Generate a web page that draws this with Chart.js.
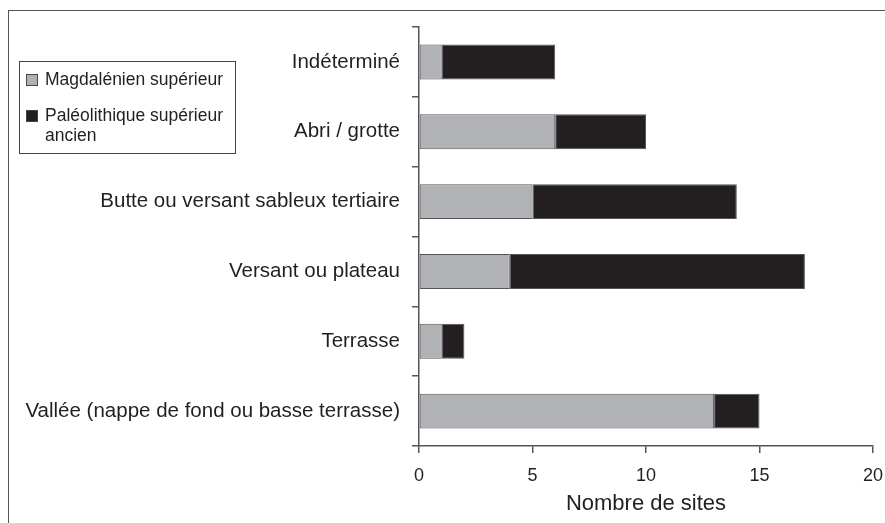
<!DOCTYPE html>
<html>
<head>
<meta charset="utf-8">
<script src="https://cdn.jsdelivr.net/npm/chart.js@4.4.1/dist/chart.umd.min.js"></script>
<style>
  body { margin: 0; background: #fff; font-family: "Liberation Sans", Arial, sans-serif; }
  #wrap { position: relative; width: 885px; height: 523px; }
  #frame { position: absolute; left: 8px; top: 10px; right: 0; bottom: -2px;
    border-top: 1.5px solid #555; border-left: 1.5px solid #555; }
  #legend { position: absolute; left: 19px; top: 61px; width: 215px; height: 91px;
    border: 1px solid #444; background: #fff; color: #231f20; font-size: 17.5px; }
  .item { position: absolute; left: 6px; line-height: 20px; }
  .box { position: absolute; left: 0; top: 5px; width: 10px; height: 10px; border: 1px solid #444; }
  .txt { position: absolute; left: 19px; top: 0; width: 200px; white-space: pre; }
</style>
</head>
<body>
<div id="wrap">
  <div id="frame"></div>
  <canvas id="myChart" width="885" height="523"></canvas>
  <div id="legend"></div>
</div>
<script>
// categories, top to bottom
var categories = [
  "Indéterminé",
  "Abri / grotte",
  "Butte ou versant sableux tertiaire",
  "Versant ou plateau",
  "Terrasse",
  "Vallée (nappe de fond ou basse terrasse)"
];
var magdalenien = [1, 6, 5, 4, 1, 13];
var paleoAncien = [5, 4, 9, 13, 1, 2];
var xTicks = [0, 5, 10, 15, 20];

var seriesNames = ["Magdalénien supérieur", "Paléolithique supérieur\nancien"];
var colors = ["#b1b2b5", "#231f20"];

var ctx = document.getElementById("myChart").getContext("2d");
var chart = new Chart(ctx, {
  type: "bar",
  data: {
    labels: categories,
    datasets: [
      {
        label: seriesNames[0],
        backgroundColor: colors[0],
        borderColor: "#555",
        borderWidth: 1,
        borderSkipped: false,
        data: magdalenien,
        barPercentage: 0.5,
        categoryPercentage: 1
      },
      {
        label: seriesNames[1],
        backgroundColor: colors[1],
        borderColor: "#555",
        borderWidth: 1,
        borderSkipped: false,
        data: paleoAncien,
        barPercentage: 0.5,
        categoryPercentage: 1
      }
    ]
  },
  options: {
    indexAxis: "y",
    responsive: false,
    animation: false,
    layout: { padding: { top: 27, right: 0, left: 0, bottom: 0 } },
    plugins: { legend: { display: false }, tooltip: { enabled: false } },
    scales: {
      x: {
        stacked: true,
        min: 0,
        max: 20,
        afterBuildTicks: function (scale) {
          scale.ticks = xTicks.map(v => ({ value: v }));
        },
        afterFit: function (scale) {
          scale.height = 77;
          // tick padding is added to the side padding; keep the axis end at x≈873
          scale.paddingRight = 12;
          scale.paddingLeft = 0;
        },
        border: { color: "#555", width: 1.5 },
        grid: { drawOnChartArea: false, tickLength: 7, color: "#555", lineWidth: 1.5 },
        ticks: { color: "#231f20", font: { size: 18, family: "Liberation Sans" }, padding: 12, maxRotation: 0 },
        title: {
          display: true,
          text: "Nombre de sites",
          color: "#231f20",
          font: { size: 22, family: "Liberation Sans" },
          padding: { top: 4, bottom: 6 }
        }
      },
      y: {
        stacked: true,
        afterFit: function (scale) { scale.width = 419; },
        border: { color: "#555", width: 1.5 },
        grid: { drawOnChartArea: false, tickLength: 7, color: "#555", lineWidth: 1.5, offset: true },
        ticks: { color: "#231f20", font: { size: 20.5, family: "Liberation Sans" }, padding: 12 }
      }
    }
  }
});

// legend built from the dataset names
var legend = document.getElementById("legend");
var tops = [7, 43];
chart.data.datasets.forEach(function (ds, i) {
  var item = document.createElement("div");
  item.className = "item";
  item.style.top = tops[i] + "px";
  item.innerHTML = '<span class="box" style="background:' + ds.backgroundColor + '"></span>' +
    '<span class="txt"></span>';
  item.querySelector(".txt").textContent = ds.label;
  legend.appendChild(item);
});
</script>
</body>
</html>
